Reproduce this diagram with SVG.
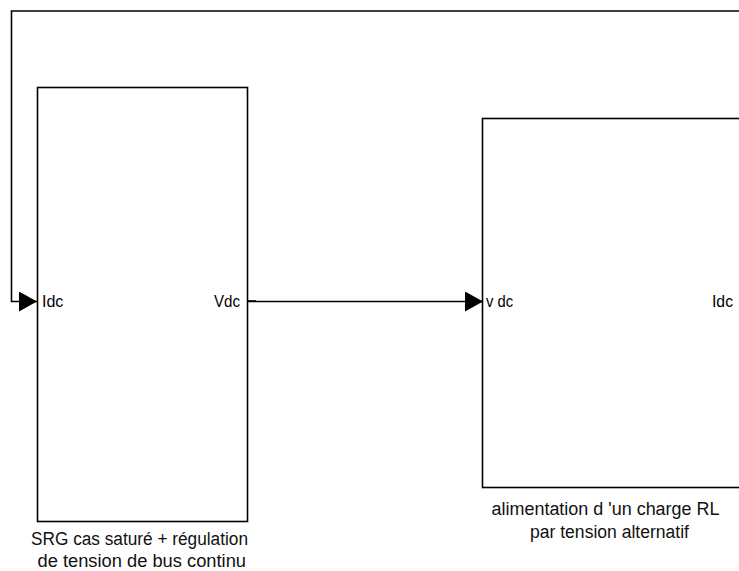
<svg xmlns="http://www.w3.org/2000/svg" width="739" height="571" viewBox="0 0 739 571">
  <defs>
    <marker id="arrow" markerWidth="18" markerHeight="20" refX="18" refY="10" orient="auto" markerUnits="userSpaceOnUse">
      <path d="M0,0 L18,10 L0,20 Z" fill="#000"/>
    </marker>
    <style>
      .block { fill: #fff; stroke: #000; stroke-width: 1.6; }
      .wire { fill: none; stroke: #000; stroke-width: 1.6; }
      .port { font-family: "Liberation Sans", Arial, sans-serif; font-size: 16px; fill: #000; }
      .label { font-family: "Liberation Sans", Arial, sans-serif; font-size: 18px; fill: #111; }
    </style>
  </defs>
  <rect width="739" height="571" fill="#fff"/>

  <!-- connectors -->
  <g id="connectors">
    <!-- feedback loop from the load back to Idc input -->
    <path class="wire" d="M745,11 L11.5,11 L11.5,301.5 L37,301.5" marker-end="url(#arrow)"/>
    <!-- DC bus voltage -->
    <path class="wire" d="M248,301.5 L483,301.5" marker-end="url(#arrow)"/>
    <path class="wire" d="M248,301 L256,301"/>
  </g>

  <!-- SRG block -->
  <g id="srg">
    <rect class="block" x="37.5" y="87.5" width="210" height="434"/>
    <text class="port" x="42" y="307">Idc</text>
    <text class="port" x="214" y="307" textLength="26" lengthAdjust="spacingAndGlyphs">Vdc</text>
    <text class="label" x="31" y="545" textLength="217" lengthAdjust="spacingAndGlyphs">SRG cas saturé + régulation</text>
    <text class="label" x="37.5" y="567" textLength="208.5" lengthAdjust="spacingAndGlyphs">de tension de bus continu</text>
  </g>

  <!-- RL load block -->
  <g id="load">
    <rect class="block" x="482.5" y="118.5" width="270" height="369"/>
    <text class="port" x="486" y="307" textLength="27" lengthAdjust="spacingAndGlyphs">v dc</text>
    <text class="port" x="712" y="307" textLength="21" lengthAdjust="spacingAndGlyphs">Idc</text>
    <text class="label" x="491.5" y="514.5" textLength="228" lengthAdjust="spacingAndGlyphs">alimentation d 'un charge RL</text>
    <text class="label" x="530" y="537.5" textLength="159" lengthAdjust="spacingAndGlyphs">par tension alternatif</text>
  </g>
</svg>
